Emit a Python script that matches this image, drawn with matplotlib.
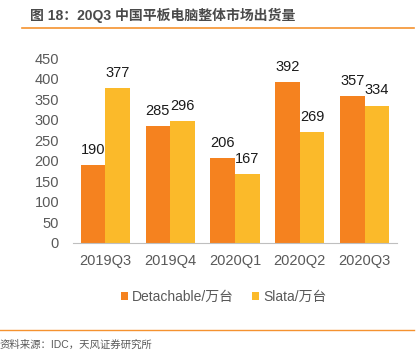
import matplotlib
matplotlib.use("Agg")
import matplotlib.pyplot as plt
from matplotlib.lines import Line2D
import numpy as np

plt.rcParams['font.family'] = ['Liberation Sans', 'Noto Sans CJK SC', 'DejaVu Sans']

categories = ["2019Q3", "2019Q4", "2020Q1", "2020Q2", "2020Q3"]
detachable = [190, 285, 206, 392, 357]
slata = [377, 296, 167, 269, 334]
yticks = [0, 50, 100, 150, 200, 250, 300, 350, 400, 450]

c_orange = "#F5821F"
c_yellow = "#FBBA2A"

W, H = 418, 352
fig = plt.figure(figsize=(W / 100, H / 100), dpi=100)

ax = fig.add_axes([73 / W, 1 - 243 / H, (397 - 73) / W, (243 - 58) / H])
x = np.arange(len(categories))
bw = 0.38
b1 = ax.bar(x - bw / 2, detachable, bw, color=c_orange, label="Detachable/万台")
b2 = ax.bar(x + bw / 2, slata, bw, color=c_yellow, label="Slata/万台")
for bars, vals in ((b1, detachable), (b2, slata)):
    for r, v in zip(bars, vals):
        ax.text(r.get_x() + r.get_width() / 2, v + 20, str(v), ha="center", va="bottom",
                fontsize=10.5, color="#1a1a1a")

ax.set_xlim(-0.5, len(categories) - 0.5)
ax.set_ylim(0, 450)
ax.set_yticks(yticks)
ax.set_xticks(x)
ax.set_xticklabels(categories)
for s in ["top", "right", "left"]:
    ax.spines[s].set_visible(False)
ax.spines["bottom"].set_color("#BFBFBF")
ax.tick_params(axis="both", length=0, labelsize=10.5, colors="#595959")
ax.tick_params(axis="y", pad=10)
ax.tick_params(axis="x", pad=8)

leg = fig.legend(handles=[b1, b2], loc="center", bbox_to_anchor=(224 / W, 1 - 297 / H),
                 ncol=2, frameon=False, fontsize=10, handlelength=0.5, handleheight=0.5,
                 handletextpad=0.3, columnspacing=1.3, labelcolor="#595959")

fig.text(30 / W, 1 - 15 / H, "图 18：20Q3 中国平板电脑整体市场出货量", fontsize=10,
         fontweight="bold", color="#4a4a4a", ha="left", va="center")
fig.add_artist(Line2D([22 / W, 414 / W], [1 - 28 / H, 1 - 28 / H], color="#F5922F", lw=1.2))
fig.add_artist(Line2D([0, 414 / W], [1 - 330 / H, 1 - 330 / H], color="#F5922F", lw=1.0))
fig.text(0 / W, 1 - 345 / H, "资料来源：IDC，天风证券研究所", fontsize=7.5,
         color="#595959", ha="left", va="center")

fig.savefig("out.png", dpi=100)
